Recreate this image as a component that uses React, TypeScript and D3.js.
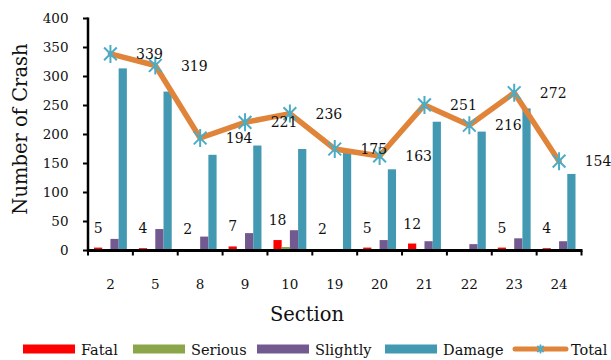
import React from "react";
import * as d3 from "d3";

const sections = ["2", "5", "8", "9", "10", "19", "20", "21", "22", "23", "24"];
const fatal = [5, 4, 2, 7, 18, 2, 5, 12, 0, 5, 4];
const serious = [0, 0, 0, 0, 6, 0, 0, 0, 0, 0, 0];
const slightly = [20, 37, 24, 30, 35, 0, 18, 16, 11, 21, 16];
const damage = [314, 274, 165, 181, 175, 168, 140, 222, 205, 245, 132];
const total = [339, 319, 194, 221, 236, 175, 163, 251, 216, 272, 154];
const yTicks = [0, 50, 100, 150, 200, 250, 300, 350, 400];

const seriesKeys = ["Fatal", "Serious", "Slightly", "Damage"];
const seriesValues = [fatal, serious, slightly, damage];
const seriesColors = ["#FF0000", "#8BA54B", "#725A91", "#4399B1"];
const lineColor = "#E0843A";
const markerColor = "#4BACC6";

const W = 611;
const H = 360;
const FONT = "'DejaVu Serif', serif";

const plot = { left: 88, right: 581.5, top: 18.5, bottom: 250.5 };

const legendItems = [
  { label: "Fatal", x: 23, kind: "bar", color: seriesColors[0] },
  { label: "Serious", x: 133, kind: "bar", color: seriesColors[1] },
  { label: "Slightly", x: 257, kind: "bar", color: seriesColors[2] },
  { label: "Damage", x: 385, kind: "bar", color: seriesColors[3] },
  { label: "Total", x: 513, kind: "line", color: lineColor },
];

function starPath(r: number): string {
  const d = r * Math.SQRT1_2;
  return `M${-d},${-d}L${d},${d}M${-d},${d}L${d},${-d}M0,${-r}L0,${r}`;
}

export default function App() {
  const x = d3.scaleBand<string>().domain(sections).range([plot.left, plot.right]).padding(0);
  const inner = d3
    .scaleBand<string>()
    .domain(seriesKeys)
    .range([0, x.bandwidth()])
    .paddingInner(0)
    .paddingOuter(0.73);
  const y = d3.scaleLinear().domain([0, 400]).range([plot.bottom, plot.top]);

  const cx = (i: number) => (x(sections[i]) as number) + x.bandwidth() / 2;
  const line = d3
    .line<number>()
    .x((_, i) => cx(i))
    .y((v) => y(v));

  const boundaries = sections.map((s) => x(s) as number).concat([plot.right]);

  return (
    <svg width={W} height={H} style={{ position: "absolute", left: 0, top: 0 }} fontFamily={FONT}>
      <rect width={W} height={H} fill="#fff" />

      {/* bars */}
      {seriesValues.map((vals, si) =>
        vals.map((v, i) => (
          <rect
            key={`b${si}-${i}`}
            x={(x(sections[i]) as number) + (inner(seriesKeys[si]) as number)}
            y={y(v)}
            width={inner.bandwidth()}
            height={plot.bottom - y(v)}
            fill={seriesColors[si]}
          />
        ))
      )}

      {/* fatal value labels */}
      {fatal.map((v, i) =>
        v > 0 ? (
          <text
            key={`fl${i}`}
            x={(x(sections[i]) as number) + (inner("Fatal") as number) + inner.bandwidth() / 2}
            y={y(v) - 15}
            textAnchor="middle"
            fontSize={14}
            fill="#111"
          >
            {v}
          </text>
        ) : null
      )}

      {/* total line */}
      <path
        d={line(total) || ""}
        fill="none"
        stroke={lineColor}
        strokeWidth={5.5}
        strokeLinejoin="round"
        strokeLinecap="round"
      />
      {total.map((v, i) => (
        <path
          key={`m${i}`}
          d={starPath(9)}
          transform={`translate(${cx(i)},${y(v)})`}
          stroke={markerColor}
          strokeWidth={2}
          fill="none"
        />
      ))}
      {total.map((v, i) => (
        <text
          key={`tl${i}`}
          x={cx(i) + 39}
          y={y(v)}
          dy="0.36em"
          textAnchor="middle"
          fontSize={14}
          fill="#111"
        >
          {v}
        </text>
      ))}

      {/* y axis */}
      <line x1={plot.left} x2={plot.left} y1={plot.top - 1} y2={plot.bottom + 1.5} stroke="#000" strokeWidth={2.5} />
      {yTicks.map((t) => (
        <g key={`yt${t}`}>
          <line x1={plot.left - 5} x2={plot.left} y1={y(t)} y2={y(t)} stroke="#000" strokeWidth={2} />
          <text x={68.5} y={y(t)} dy="0.36em" textAnchor="end" fontSize={13.5} fill="#111">
            {t}
          </text>
        </g>
      ))}

      {/* x axis */}
      <line x1={plot.left - 1} x2={plot.right + 1} y1={plot.bottom} y2={plot.bottom} stroke="#000" strokeWidth={3} />
      {boundaries.map((bx, i) => (
        <line key={`xt${i}`} x1={bx} x2={bx} y1={plot.bottom} y2={plot.bottom + 5} stroke="#000" strokeWidth={2} />
      ))}
      {sections.map((s, i) => (
        <text key={`xl${s}`} x={cx(i)} y={289} textAnchor="middle" fontSize={13.5} fill="#111">
          {s}
        </text>
      ))}

      {/* axis titles */}
      <text x={307} y={321} textAnchor="middle" fontSize={19.5} fill="#111">
        Section
      </text>
      <text
        transform={`translate(26.5,129) rotate(-90)`}
        textAnchor="middle"
        fontSize={19.5}
        fill="#111"
      >
        Number of Crash
      </text>

      {/* legend */}
      {legendItems.map((it) => (
        <g key={it.label}>
          {it.kind === "bar" ? (
            <rect x={it.x} y={344.5} width={52} height={9} fill={it.color} />
          ) : (
            <g>
              <line x1={it.x + 2} x2={it.x + 53} y1={349} y2={349} stroke={it.color} strokeWidth={5} strokeLinecap="round" />
              <path d={starPath(4.5)} transform={`translate(${it.x + 27.5},349)`} stroke={markerColor} strokeWidth={1.8} fill="none" />
            </g>
          )}
          <text x={it.x + 58} y={354.5} fontSize={14.5} fill="#111">
            {it.label}
          </text>
        </g>
      ))}
    </svg>
  );
}
